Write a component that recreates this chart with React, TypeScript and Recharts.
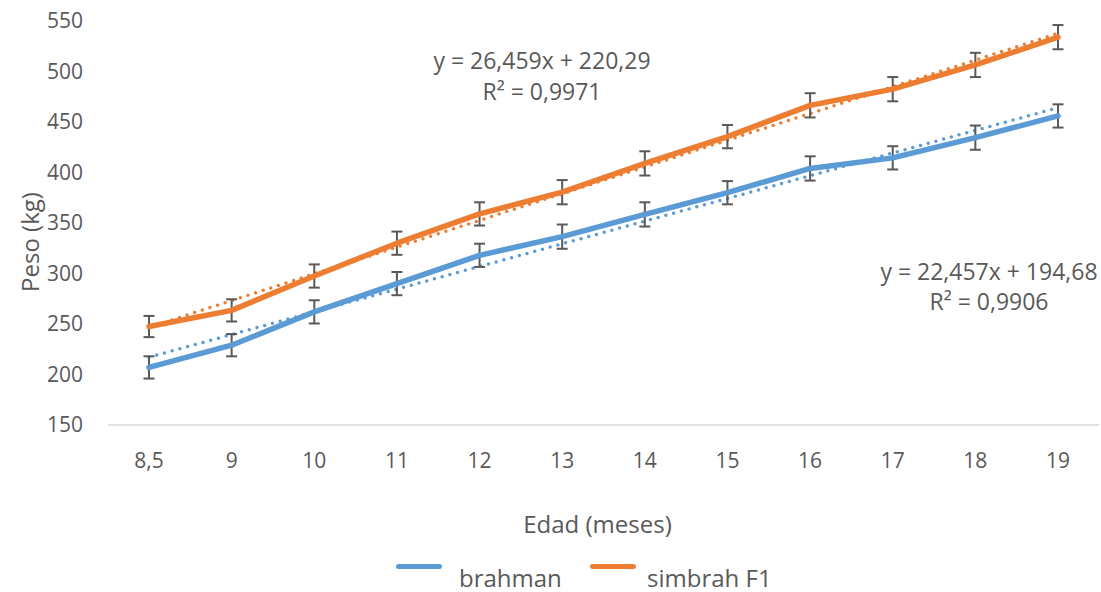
import React from "react";
import { LineChart, Line, XAxis, YAxis, ErrorBar, Legend, Label } from "recharts";

// edad (meses)
const categories = ["8,5", "9", "10", "11", "12", "13", "14", "15", "16", "17", "18", "19"];

// peso medio (kg) y error
const brahman = [207, 229, 262, 290, 318, 336.5, 358.5, 380, 404, 414.5, 434.5, 456];
const brahmanErr = [11, 11, 11.5, 11.5, 11.5, 12, 12, 11.5, 12, 11.5, 12, 11.5];
const simbrah = [247.5, 263.5, 297.5, 330, 359, 380.5, 409, 435.5, 466.5, 482.5, 506.5, 534];
const simbrahErr = [10.5, 11, 11.5, 11.5, 11.5, 12, 12, 11.5, 12, 12, 12, 12];

// lineas de tendencia
const brahmanTrend = [217.1, 239.6, 262.1, 284.5, 307.0, 329.4, 351.9, 374.3, 396.8, 419.3, 441.7, 464.2];
const simbrahTrend = [246.7, 273.2, 299.7, 326.1, 352.6, 379.0, 405.5, 432.0, 458.4, 484.9, 511.3, 537.8];

const yTicks = [150, 200, 250, 300, 350, 400, 450, 500, 550];

const BLUE = "#5B9BD5";
const ORANGE = "#ED7D31";
const GREY = "#595959";
const FONT = "'Open Sans', 'Noto Sans', sans-serif";

const data = categories.map((edad, i) => ({
  edad,
  brahman: brahman[i],
  bErr: brahmanErr[i],
  simbrah: simbrah[i],
  sErr: simbrahErr[i],
  bTrend: brahmanTrend[i],
  sTrend: simbrahTrend[i],
}));

function LegendBox() {
  const items = [
    { name: "brahman", color: BLUE, icon: 396, text: 459 },
    { name: "simbrah F1", color: ORANGE, icon: 590, text: 647 },
  ];
  return (
    <div style={{ height: 37, position: "relative", fontFamily: FONT }}>
      {items.map((it) => (
        <React.Fragment key={it.name}>
          <div style={{ position: "absolute", left: it.icon, top: 8.5, width: 46, height: 5, borderRadius: 3, background: it.color }} />
          <span style={{ position: "absolute", left: it.text, top: 11, fontSize: 24, lineHeight: "24px", color: GREY, whiteSpace: "nowrap" }}>{it.name}</span>
        </React.Fragment>
      ))}
    </div>
  );
}

function Eq({ x, y, text }: { x: number; y: number; text: string }) {
  return (
    <div
      style={{
        position: "absolute", left: x - 200, top: y - 15, width: 400, height: 30,
        lineHeight: "30px", textAlign: "center", fontSize: 23, color: GREY, fontFamily: FONT,
        whiteSpace: "nowrap", pointerEvents: "none",
      }}
    >
      {text}
    </div>
  );
}

export default function App() {
  return (
    <div style={{ position: "absolute", left: 0, top: 0, width: 1101, height: 592, background: "#fff", fontFamily: FONT }}>
      <LineChart width={1101} height={592} data={data} margin={{ top: 21, right: 2, left: 0, bottom: 0 }}>
        <XAxis
          dataKey="edad"
          height={130}
          padding={{ left: 41, right: 41 }}
          tickLine={false}
          axisLine={{ stroke: "#D9D9D9", strokeWidth: 1.5 }}
          tickMargin={22}
          tick={{ fill: GREY, fontSize: 21, fontFamily: FONT }}
          interval={0}
        >
          <Label
            content={({ viewBox }: any) => (
              <text
                x={viewBox.x + viewBox.width / 2 - 6}
                y={533}
                textAnchor="middle"
                fill={GREY}
                fontSize={24}
                fontFamily={FONT}
              >
                Edad (meses)
              </text>
            )}
          />
        </XAxis>
        <YAxis
          width={108}
          domain={[150, 550]}
          ticks={yTicks}
          interval={0}
          axisLine={false}
          tickLine={false}
          tickMargin={19}
          tick={{ fill: GREY, fontSize: 21, fontFamily: FONT }}
        >
          <Label
            content={() => (
              <text
                x={29}
                y={242}
                transform="rotate(-90 29 242)"
                textAnchor="middle"
                dominantBaseline="central"
                fill={GREY}
                fontSize={24}
                fontFamily={FONT}
              >
                Peso (kg)
              </text>
            )}
          />
        </YAxis>
        <Legend verticalAlign="bottom" height={37} content={() => <LegendBox />} />
        <Line
          dataKey="bTrend"
          stroke={BLUE}
          strokeWidth={3.5}
          strokeDasharray="0 8"
          strokeLinecap="round"
          dot={false}
          activeDot={false}
          legendType="none"
          isAnimationActive={false}
        />
        <Line
          dataKey="sTrend"
          stroke={ORANGE}
          strokeWidth={3.5}
          strokeDasharray="0 8"
          strokeLinecap="round"
          dot={false}
          activeDot={false}
          legendType="none"
          isAnimationActive={false}
        />
        <Line
          dataKey="brahman"
          name="brahman"
          stroke={BLUE}
          strokeWidth={5.5}
          strokeLinecap="round"
          strokeLinejoin="round"
          dot={false}
          activeDot={false}
          isAnimationActive={false}
        >
          <ErrorBar dataKey="bErr" direction="y" width={5.5} strokeWidth={2} stroke={GREY} />
        </Line>
        <Line
          dataKey="simbrah"
          name="simbrah F1"
          stroke={ORANGE}
          strokeWidth={5.5}
          strokeLinecap="round"
          strokeLinejoin="round"
          dot={false}
          activeDot={false}
          isAnimationActive={false}
        >
          <ErrorBar dataKey="sErr" direction="y" width={5.5} strokeWidth={2} stroke={GREY} />
        </Line>
      </LineChart>
      <Eq x={542} y={60} text="y = 26,459x + 220,29" />
      <Eq x={542} y={91} text="R² = 0,9971" />
      <Eq x={989} y={271} text="y = 22,457x + 194,68" />
      <Eq x={989} y={301} text="R² = 0,9906" />
    </div>
  );
}
